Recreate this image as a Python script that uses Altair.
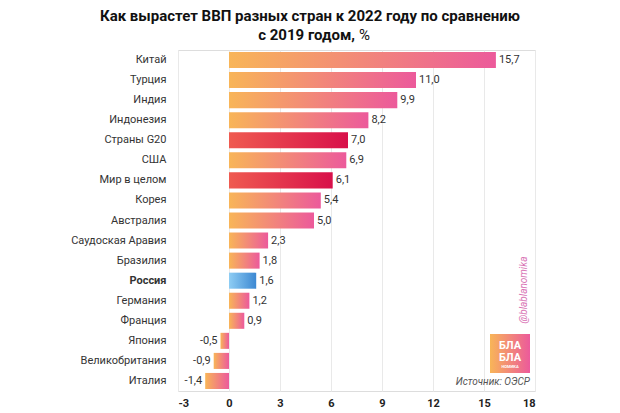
import altair as alt
import pandas as pd

countries = ["Китай", "Турция", "Индия", "Индонезия", "Страны G20", "США",
             "Мир в целом", "Корея", "Австралия", "Саудоская Аравия", "Бразилия",
             "Россия", "Германия", "Франция", "Япония", "Великобритания", "Италия"]
values = [15.7, 11.0, 9.9, 8.2, 7.0, 6.9, 6.1, 5.4, 5.0, 2.3, 1.8, 1.6, 1.2, 0.9, -0.5, -0.9, -1.4]
groups = ["o", "o", "o", "o", "r", "o", "r", "o", "o", "o", "o", "b", "o", "o", "o", "o", "o"]
x_ticks = [-3, 0, 3, 6, 9, 12, 15, 18]

df = pd.DataFrame({"country": countries, "value": values, "group": groups})

FONT = "Roboto"

def grad(c1, c2):
    return alt.LinearGradient(
        gradient="linear", x1=0, x2=1, y1=0, y2=0,
        stops=[alt.GradientStop(color=c1, offset=0), alt.GradientStop(color=c2, offset=1)],
    )

y_enc = alt.Y(
    "country:N", sort=countries, title=None,
    scale=alt.Scale(paddingInner=0.2, paddingOuter=0.1),
    axis=alt.Axis(domain=False, ticks=False, labelPadding=12, labelFontSize=11,
                  labelColor="#333333", labelFont=FONT,
                  labelFontWeight=alt.expr("datum.value == 'Россия' ? 'bold' : 'normal'")),
)
x_enc = alt.X(
    "value:Q", title=None,
    scale=alt.Scale(domain=[-3, 18], nice=False, zero=False),
    axis=alt.Axis(values=x_ticks, domain=False, ticks=False, grid=True, gridColor="#e9e9e9",
                  labelFontSize=11, labelFontWeight="bold", labelColor="#222222",
                  labelFont=FONT, labelPadding=6, labelExpr="datum.value"),
)

base = alt.Chart(df).encode(y=y_enc)

def bars(g, c1, c2):
    return base.transform_filter(alt.datum.group == g).mark_bar(
        color=grad(c1, c2)
    ).encode(x=x_enc, x2=alt.datum(0))

bar_o = bars("o", "#F8B558", "#EC5A9B")
bar_r = bars("r", "#EF5B50", "#D8104A")
bar_b = bars("b", "#8ECDF4", "#3C88D2")

lbl = base.transform_calculate(
    lab="replace(replace(format(datum.value, '.1f'), '.', ','), '\u2212', '-')"
)
txt_pos = lbl.transform_filter(alt.datum.value >= 0).mark_text(
    align="left", dx=3, fontSize=11, color="#333333", font=FONT
).encode(x=alt.X("value:Q"), text="lab:N")
txt_neg = lbl.transform_filter(alt.datum.value < 0).mark_text(
    align="right", dx=-3, fontSize=11, color="#333333", font=FONT
).encode(x=alt.X("value:Q"), text="lab:N")

one = alt.Chart(pd.DataFrame({"a": [0]}))

title1 = one.mark_text(fontSize=15, fontWeight="bold", font=FONT, color="#111111").encode(
    x=alt.value(132), y=alt.value(-34),
    text=alt.value("Как вырастет ВВП разных стран к 2022 году по сравнению"))
title2a = one.mark_text(fontSize=15, fontWeight="bold", font=FONT, color="#111111", align="right").encode(
    x=alt.value(177), y=alt.value(-15), text=alt.value("с 2019 годом,"))
title2b = one.mark_text(fontSize=15, fontWeight="normal", font=FONT, color="#111111", align="left").encode(
    x=alt.value(181), y=alt.value(-15), text=alt.value("%"))

source = one.mark_text(fontSize=10, fontStyle="italic", font=FONT, color="#555555", align="right").encode(
    x=alt.value(352), y=alt.value(332), text=alt.value("Источник: ОЭСР"))
handle = one.mark_text(fontSize=10, fontStyle="italic", font=FONT, color="#D873B4", angle=270).encode(
    x=alt.value(346), y=alt.value(240), text=alt.value("@blablanomika"))
logo = one.mark_rect(color=grad("#F8B558", "#EC5A9B")).encode(
    x=alt.value(312), x2=alt.value(352), y=alt.value(284), y2=alt.value(323))
logo1 = one.mark_text(fontSize=11, fontWeight="bold", font=FONT, color="white").encode(
    x=alt.value(332), y=alt.value(296), text=alt.value("БЛА"))
logo2 = one.mark_text(fontSize=11, fontWeight="bold", font=FONT, color="white").encode(
    x=alt.value(332), y=alt.value(308), text=alt.value("БЛА"))
logo3 = one.mark_text(fontSize=4, fontWeight="bold", font=FONT, color="white").encode(
    x=alt.value(332), y=alt.value(317), text=alt.value("НОМИКА"))

chart = alt.layer(
    bar_o, bar_r, bar_b, txt_pos, txt_neg,
    title1, title2a, title2b, source, handle, logo, logo1, logo2, logo3,
).properties(
    width=357, height=341,
    autosize=alt.AutoSizeParams(type="none"),
    padding={"left": 170, "top": 42, "right": 10, "bottom": 21},
).configure_view(stroke=None).configure(background="white")

chart.save("out.html", embed_options={"renderer": "svg", "actions": False})
